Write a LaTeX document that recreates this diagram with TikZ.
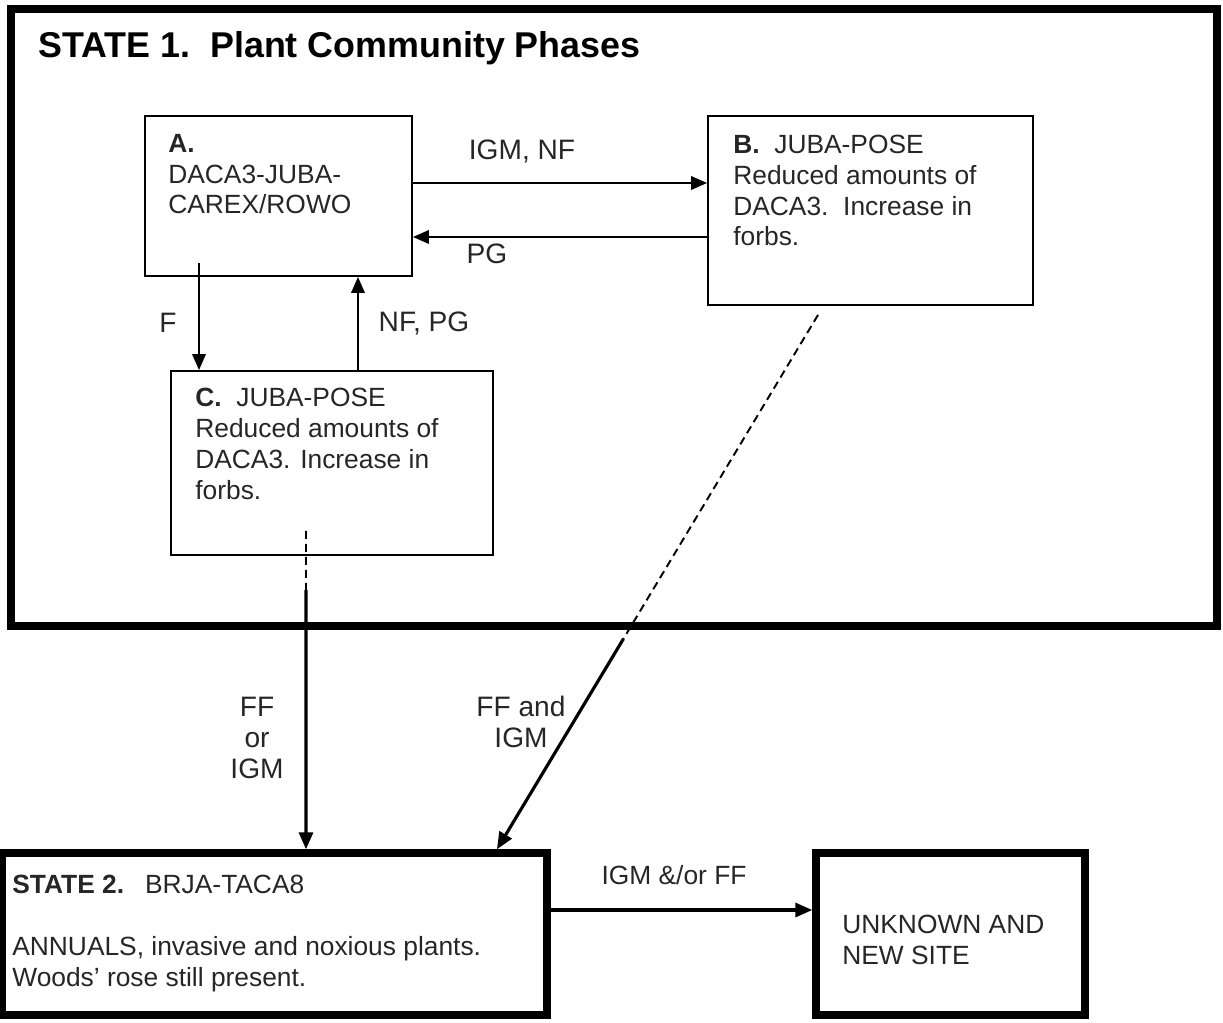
\documentclass[tikz,border=0pt]{standalone}
\usepackage{fontspec}
\setmainfont{Liberation Sans}
\usetikzlibrary{arrows.meta,calc,positioning}

\begin{document}
\begin{tikzpicture}[x=0.02cm,y=-0.02cm,
  phase/.style={draw,line width=1.1pt,inner sep=0pt},
  state/.style={draw,line width=4.2pt,inner sep=0pt},
  txt/.style={anchor=base west,align=left,inner sep=0pt,text=black!85,font=\fontsize{15}{17.6}\selectfont},
  lbl/.style={align=center,inner sep=0pt,text=black!85,font=\fontsize{16}{17.9}\selectfont},
  arr/.style={line width=1.1pt,-{Triangle[length=0.32cm,width=0.27cm]}},
  bigarr/.style={line width=1.8pt,-{Triangle[length=0.34cm,width=0.28cm]}},
  dsh/.style={line width=1.1pt,dash pattern=on 0.16cm off 0.1cm}]
\useasboundingbox (0,0) rectangle (1223,1023);
%boxes
\node[state,minimum width=24.12cm,minimum height=12.34cm](S1) at (614,317.5){};
\node[phase,minimum width=5.34cm,minimum height=3.2cm](A) at (278.5,196){};
\node[phase,minimum width=6.5cm,minimum height=3.78cm](B) at (870.5,210.5){};
\node[phase,minimum width=6.44cm,minimum height=3.68cm](C) at (332,463){};
\node[state,minimum width=10.9cm,minimum height=3.24cm](S2) at (274.5,934){};
\node[state,minimum width=5.38cm,minimum height=3.24cm](U) at (950.5,934){};
%box texts (base = last line)
\node[txt,text=black,font=\bfseries\fontsize{20.4}{24}\selectfont](S1t) at (38,58){STATE 1.\ \ Plant Community Phases};
\node[txt](At) at (168,214){\textbf{A.}\\DACA3-JUBA-\\CAREX/ROWO};
\node[txt](Bt) at (733,246){\textbf{B.}\ \ JUBA-POSE\\Reduced amounts of\\DACA3.\ \ Increase in\\forbs.};
\node[txt](Ct) at (195,499){\textbf{C.}\ \ JUBA-POSE\\Reduced amounts of\\DACA3. Increase in\\forbs.};
\node[txt](S2t) at (12,986){\textbf{STATE 2.}\hspace{0.42cm}BRJA-TACA8\\[17.6pt]ANNUALS, invasive and noxious plants.\\Woods' rose still present.};
\node[txt](Ut) at (842,964){UNKNOWN AND\\NEW SITE};
%arrows inside state 1
\draw[arr] ([yshift=0.26cm]A.east) -- ([yshift=0.26cm]A.east -| B.west);
\draw[arr] ([yshift=-0.82cm]A.east -| B.west) -- ([yshift=-0.82cm]A.east);
\draw[arr] ([xshift=-1.59cm,yshift=0.28cm]A.south) -- ([xshift=-1.59cm]A.south |- C.north);
\draw[arr] ([xshift=1.59cm]A.south |- C.north) -- ([xshift=1.59cm]A.south);
%transitions to state 2
\coordinate (c0) at ([xshift=-0.52cm,yshift=0.5cm]C.south);
\coordinate (c2) at ([xshift=-0.52cm]C.south |- S2.north);
\coordinate (c1) at ($(c0)!0.186!(c2)$);
\draw[dsh] (c0) -- (c1);
\draw[bigarr] (c1) -- (c2);
\coordinate (b0) at ([xshift=-1.05cm,yshift=-0.18cm]B.south);
\coordinate (b2) at ([xshift=4.45cm]S2.north);
\coordinate (b1) at ($(b0)!0.606!(b2)$);
\draw[dsh] (b0) -- (b1);
\draw[bigarr] (b1) -- (b2);
\draw[bigarr] ([yshift=0.48cm]S2.east) -- ([yshift=0.48cm]S2.east -| U.west);
%labels
\node[lbl](l1) at (522,151){IGM, NF};
\node[lbl](l2) at (487,254){PG};
\node[lbl](l3) at (168,323){F};
\node[lbl](l4) at (424,323){NF, PG};
\node[lbl](l5) at (257,738){FF\\or\\IGM};
\node[lbl](l6) at (521,722){FF and\\IGM};
\node[lbl,font=\fontsize{15}{18}\selectfont](l7) at (674,875){IGM \&/or FF};
\end{tikzpicture}
\end{document}
